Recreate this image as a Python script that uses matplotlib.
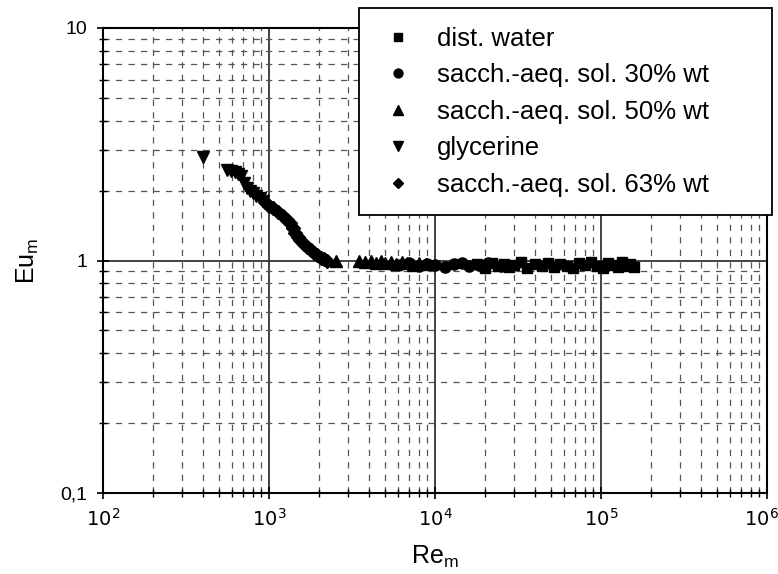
import numpy as np
import matplotlib.pyplot as plt
from matplotlib.ticker import LogLocator, FixedLocator, NullFormatter
from matplotlib.transforms import ScaledTranslation

plt.rcParams['font.family'] = ['Liberation Sans', 'DejaVu Sans']

# data
water_re = [18000, 20000, 22000, 24000, 26000, 28000, 30000, 33000, 36000, 40000,
            44000, 48000, 52000, 57000, 62000, 68000, 74000, 80000, 87000, 95000,
            103000, 110000, 118000, 126000, 134000, 142000, 150000, 158000]
water_eu = [0.97, 0.93, 0.98, 0.95, 0.97, 0.94, 0.96, 0.99, 0.93, 0.97,
            0.95, 0.98, 0.94, 0.97, 0.95, 0.93, 0.98, 0.96, 0.99, 0.95,
            0.93, 0.98, 0.96, 0.94, 0.99, 0.95, 0.97, 0.94]

sol30_re = [6000, 7000, 8000, 9000, 10000, 11500, 13000, 14500, 16000, 18500, 21000, 25000]
sol30_eu = [0.96, 0.98, 0.95, 0.97, 0.96, 0.94, 0.97, 0.98, 0.95, 0.96, 0.98, 0.95]

sol50_re = [2550, 3500, 3800, 4100, 4400, 4700, 5000, 5400, 5800, 6300, 6800, 7400, 8000, 8800]
sol50_eu = [1.00, 1.00, 0.99, 1.00, 0.98, 1.00, 0.98, 0.99, 0.97, 0.99, 0.98, 0.96, 0.98, 0.97]

glyc_re = [400, 560, 590, 620, 650, 680, 710, 740, 770, 800, 840, 880, 920]
glyc_eu = [2.80, 2.45, 2.42, 2.40, 2.36, 2.30, 2.15, 2.05, 2.00, 1.95, 1.90, 1.85, 1.80]

sol63_re = [950, 1000, 1060, 1130, 1210, 1280, 1340, 1400, 1440, 1500,
            1540, 1620, 1690, 1780, 1860, 1950, 2050, 2150, 2230]
sol63_eu = [1.78, 1.72, 1.68, 1.62, 1.55, 1.50, 1.45, 1.38, 1.31, 1.26,
            1.22, 1.18, 1.14, 1.11, 1.08, 1.06, 1.03, 1.01, 1.00]

fig = plt.figure(figsize=(7.78, 5.74), dpi=100)
ax = fig.add_axes([103/778, 1-493/574, 664/778, 465/574])

ms = 9
ax.plot(water_re, water_eu, 's', color='black', ms=ms-1.5, label='dist. water')
ax.plot(sol30_re, sol30_eu, 'o', color='black', ms=ms-1, label='sacch.-aeq. sol. 30% wt')
ax.plot(sol50_re, sol50_eu, '^', color='black', ms=ms, label='sacch.-aeq. sol. 50% wt')
ax.plot(glyc_re, glyc_eu, 'v', color='black', ms=ms, label='glycerine')
ax.plot(sol63_re, sol63_eu, 'D', color='black', ms=ms-2, label='sacch.-aeq. sol. 63% wt')

ax.set_xscale('log')
ax.set_yscale('log')
ax.set_xlim(1e2, 1e6)
ax.set_ylim(0.1, 10)

ax.xaxis.set_major_locator(FixedLocator([1e2, 1e3, 1e4, 1e5, 1e6]))
ax.xaxis.set_minor_locator(LogLocator(base=10, subs=np.arange(2, 10)))
ax.xaxis.set_minor_formatter(NullFormatter())
ax.set_xticklabels(['$10^2$', '$10^3$', '$10^4$', '$10^5$', '$10^6$'])
ax.yaxis.set_major_locator(FixedLocator([0.1, 1, 10]))
ax.yaxis.set_minor_locator(LogLocator(base=10, subs=np.arange(2, 10)))
ax.yaxis.set_minor_formatter(NullFormatter())
ax.set_yticklabels(['0,1', '1', '10'])

ax.grid(True, which='major', color='#333333', lw=1.3, ls='-')
ax.grid(True, which='minor', color='#555555', lw=0.9, ls=(0, (5, 5)))
ax.set_axisbelow(True)

ax.tick_params(which='major', direction='inout', length=9, width=1.2, labelsize=14)
ax.tick_params(axis='x', which='major', pad=6)
ax.tick_params(axis='y', which='major', pad=7)
ax.tick_params(which='minor', direction='inout', length=6, width=1)
for s in ax.spines.values():
    s.set_linewidth(1.5)

# keep the last x label inside the figure
last = ax.get_xticklabels()[-1]
last.set_transform(last.get_transform() + ScaledTranslation(-6/100, 0, fig.dpi_scale_trans))

ax.set_xlabel('Re$_\\mathregular{m}$', fontsize=18, labelpad=10)
ax.set_ylabel('Eu$_\\mathregular{m}$', fontsize=18, labelpad=14)

leg = fig.legend(loc='upper left', bbox_to_anchor=(359/778, 1-212/574, 413/778, 204/574),
                 mode='expand', fontsize=18.5, frameon=True, fancybox=False,
                 edgecolor='black', framealpha=1, borderpad=0.72, labelspacing=0.49,
                 borderaxespad=0, handletextpad=0.7, handlelength=1.6, markerscale=0.8)
leg.get_frame().set_linewidth(1.3)

fig.savefig('out.png', dpi=100)
